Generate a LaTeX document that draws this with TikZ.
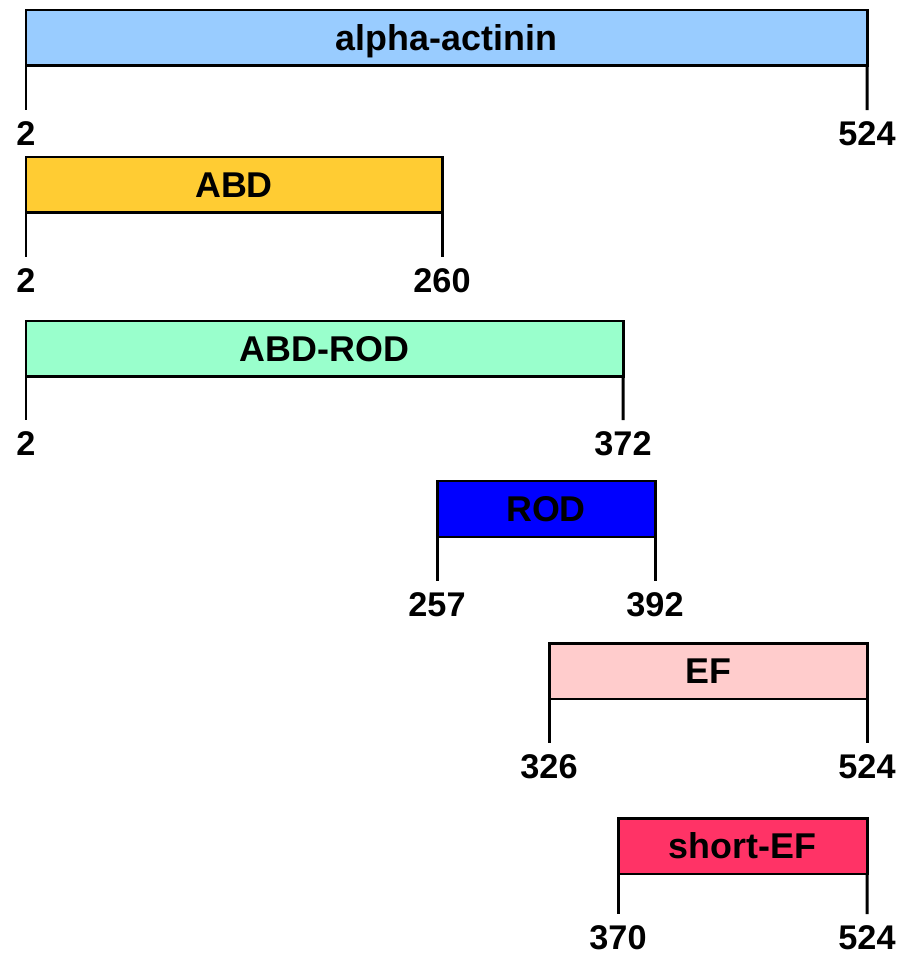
\documentclass[tikz,border=0pt]{standalone}
\usepackage{fontspec}
\setmainfont{Liberation Sans}
\definecolor{actininblue}{HTML}{99CCFF}
\definecolor{abdyellow}{HTML}{FFCC33}
\definecolor{abdrodgreen}{HTML}{99FFCC}
\definecolor{rodblue}{HTML}{0000FF}
\definecolor{efpink}{HTML}{FFCCCC}
\definecolor{shortefred}{HTML}{FF3366}

\tikzset{
  domainbar/.style 2 args={draw, line width=1.7pt, fill=#2, outer sep=0pt,
    anchor=north west, minimum width=#1*0.02cm, minimum height=1.12cm,
    text height=14.6pt, text depth=0pt,
    font=\fontsize{20.4}{24}\selectfont\bfseries},
  resnum/.style={anchor=north, inner sep=0pt, text depth=0pt,
    font=\fontsize{19.5}{23}\selectfont\bfseries},
  tickline/.style={line width=1.7pt, shorten >=0.22cm}
}

\begin{document}
\begin{tikzpicture}[x=0.02cm, y=-0.02cm]
      \useasboundingbox (0,0) rectangle (902,956);

      % Draw the constructs as bars
      \node[domainbar={841}{actininblue}] (actinin) at (26,10) {alpha-actinin};
      \node[domainbar={416}{abdyellow}] (abd) at (26,157) {ABD};
      \node[domainbar={597}{abdrodgreen}] (abdrod) at (26,321) {ABD-ROD};
      \node[domainbar={218}{rodblue}] (rod) at (437,481) {ROD};
      \node[domainbar={318}{efpink}] (ef) at (549,643) {EF};
      \node[domainbar={249}{shortefred}] (shortef) at (618,818) {short-EF};

      % write residue numbers under the bars
      \node[resnum] (actininstart) at (26,121) {2};
      \node[resnum] (actininend) at (867,121) {524};
      \node[resnum] (abdstart) at (26,268) {2};
      \node[resnum] (abdend) at (442,268) {260};
      \node[resnum] (abdrodstart) at (26,431) {2};
      \node[resnum] (abdrodend) at (623,431) {372};
      \node[resnum] (rodstart) at (437,592) {257};
      \node[resnum] (rodend) at (655,592) {392};
      \node[resnum] (efstart) at (549,754) {326};
      \node[resnum] (efend) at (867,754) {524};
      \node[resnum] (shortefstart) at (618,925) {370};
      \node[resnum] (shortefend) at (867,925) {524};

      % Ticks from the bar ends down to the numbers
      \draw[tickline] (actinin.south west) -- (actininstart.north);
      \draw[tickline] (actinin.south east) -- (actininend.north);
      \draw[tickline] (abd.south west) -- (abdstart.north);
      \draw[tickline] (abd.south east) -- (abdend.north);
      \draw[tickline] (abdrod.south west) -- (abdrodstart.north);
      \draw[tickline] (abdrod.south east) -- (abdrodend.north);
      \draw[tickline] (rod.south west) -- (rodstart.north);
      \draw[tickline] (rod.south east) -- (rodend.north);
      \draw[tickline] (ef.south west) -- (efstart.north);
      \draw[tickline] (ef.south east) -- (efend.north);
      \draw[tickline] (shortef.south west) -- (shortefstart.north);
      \draw[tickline] (shortef.south east) -- (shortefend.north);
\end{tikzpicture}
\end{document}
